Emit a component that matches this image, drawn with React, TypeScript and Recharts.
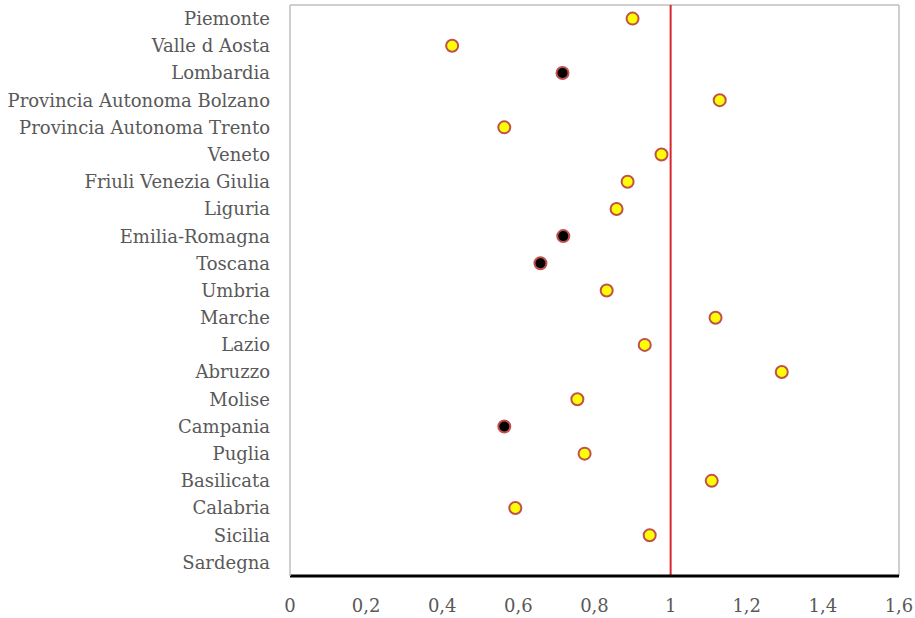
import React from "react";
import { ComposedChart, Scatter, XAxis, YAxis, ReferenceLine, CartesianGrid } from "recharts";

const regions = [
  "Piemonte",
  "Valle d Aosta",
  "Lombardia",
  "Provincia Autonoma Bolzano",
  "Provincia Autonoma Trento",
  "Veneto",
  "Friuli Venezia Giulia",
  "Liguria",
  "Emilia-Romagna",
  "Toscana",
  "Umbria",
  "Marche",
  "Lazio",
  "Abruzzo",
  "Molise",
  "Campania",
  "Puglia",
  "Basilicata",
  "Calabria",
  "Sicilia",
  "Sardegna",
];

const values: (number | null)[] = [
  0.9, 0.426, 0.716, 1.129, 0.563, 0.976, 0.887, 0.858, 0.718, 0.658,
  0.832, 1.118, 0.932, 1.292, 0.755, 0.563, 0.774, 1.108, 0.592, 0.945, null,
];

// regions marked with a black dot
const blackRegions = ["Lombardia", "Emilia-Romagna", "Toscana", "Campania"];

const xTicks = [0, 0.2, 0.4, 0.6, 0.8, 1, 1.2, 1.4, 1.6];
const referenceValue = 1;

const data = regions.map((r, i) => ({
  region: r,
  value: values[i],
  black: blackRegions.includes(r),
}));

const FONT = "'DejaVu Serif', serif";
const FRAME = "#bfbfbf";

const Dot = (props: any) => {
  const { cx, cy, payload } = props;
  if (cx == null || cy == null || payload.value == null) return <g />;
  return (
    <circle
      cx={cx}
      cy={cy}
      r={6}
      fill={payload.black ? "#000000" : "#ffff00"}
      stroke="#c0504d"
      strokeWidth={2}
    />
  );
};

export default function App() {
  return (
    <div style={{ position: "absolute", left: 0, top: 0, background: "#fff" }}>
      <ComposedChart
        width={915}
        height={618}
        layout="vertical"
        data={data}
        margin={{ top: 5, right: 16, bottom: 0, left: 0 }}
      >
        <CartesianGrid
          stroke={FRAME}
          strokeWidth={1.5}
          horizontalCoordinatesGenerator={(p: any) => [p.offset.top]}
          verticalCoordinatesGenerator={(p: any) => [p.offset.left + p.offset.width]}
        />
        <XAxis
          type="number"
          dataKey="value"
          domain={[0, 1.6]}
          ticks={xTicks}
          height={42}
          tickLine={false}
          tickMargin={17}
          axisLine={{ stroke: "#000", strokeWidth: 3 }}
          tick={{ fill: "#595959", fontSize: 18, fontFamily: FONT }}
          tickFormatter={(v: number) => String(v).replace(".", ",")}
        />
        <YAxis
          type="category"
          dataKey="region"
          width={290}
          tickLine={false}
          axisLine={{ stroke: FRAME, strokeWidth: 1.5 }}
          interval={0}
          tickMargin={14}
          padding={{ top: 13.6, bottom: 13.6 }}
          tick={{ fill: "#595959", fontSize: 18, fontFamily: FONT }}
        />
        <ReferenceLine x={referenceValue} stroke="#d9262b" strokeWidth={2} />
        <Scatter dataKey="value" isAnimationActive={false} shape={<Dot />} />
      </ComposedChart>
    </div>
  );
}
